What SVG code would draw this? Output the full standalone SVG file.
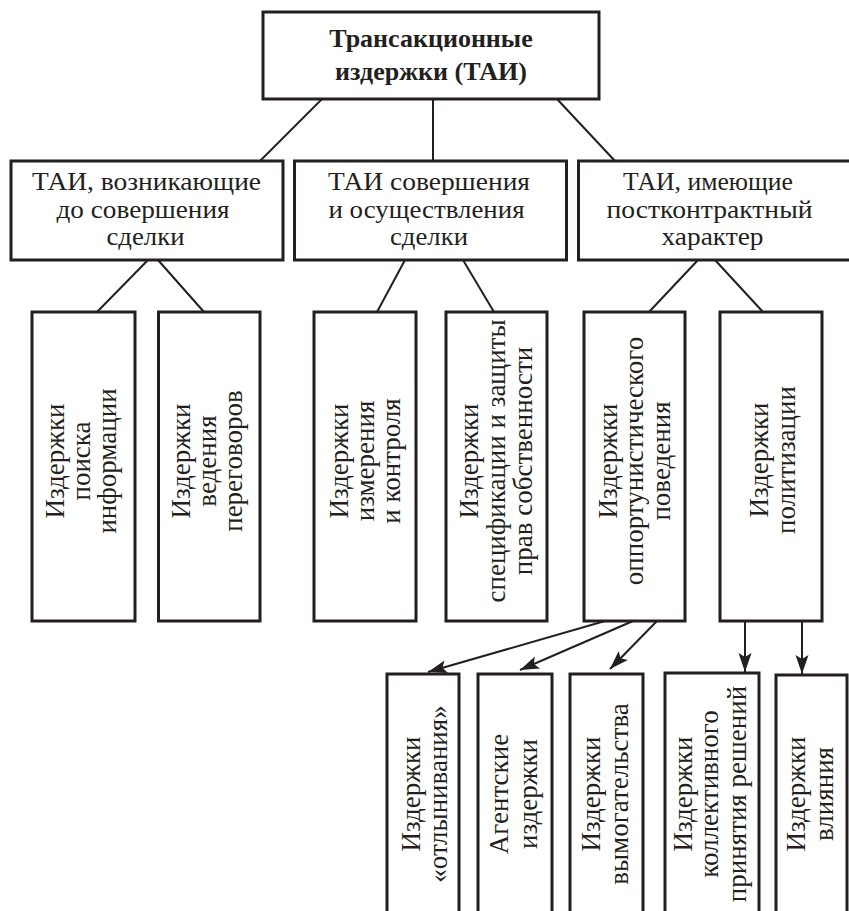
<svg xmlns="http://www.w3.org/2000/svg" width="849" height="911" viewBox="0 0 849 911">
<style>
.box{fill:#fff;stroke:#231f20;stroke-width:3}
.ln{stroke:#231f20;stroke-width:2;fill:none}
.ar{stroke:#231f20;stroke-width:2;fill:none;marker-end:url(#ah)}
text{font-family:"Liberation Serif","Times New Roman",serif;font-size:27px;fill:#231f20;text-anchor:middle}
.m{font-size:25px}
.b{font-weight:bold;font-size:26px}
</style>
<defs>
<marker id="ah" markerUnits="userSpaceOnUse" markerWidth="24" markerHeight="16" viewBox="-20 -8 22 16" refX="0" refY="0" orient="auto">
<path d="M0,0 L-19,-6.5 L-15,0 L-19,6.5 Z" fill="#231f20"/>
</marker>
</defs>
<g id="connectors">
<line class="ln" x1="322" y1="99" x2="260" y2="161"/>
<line class="ln" x1="433" y1="99" x2="433" y2="161"/>
<line class="ln" x1="557" y1="99" x2="615" y2="161"/>
<line class="ln" x1="148" y1="260" x2="97" y2="312"/>
<line class="ln" x1="158" y1="260" x2="204" y2="312"/>
<line class="ln" x1="405" y1="260" x2="377" y2="312"/>
<line class="ln" x1="463" y1="260" x2="494" y2="312"/>
<line class="ln" x1="698" y1="260" x2="649" y2="312"/>
<line class="ln" x1="715" y1="260" x2="763" y2="312"/>
<line class="ar" x1="605" y1="621" x2="428" y2="672"/>
<line class="ar" x1="633" y1="621" x2="520" y2="670"/>
<line class="ar" x1="657" y1="621" x2="610" y2="669"/>
<line class="ar" x1="745" y1="621" x2="745" y2="672"/>
<line class="ar" x1="802" y1="621" x2="802" y2="674"/>
</g>
<g id="top">
<rect class="box" x="263" y="12" width="336" height="87"/>
<text class="b" x="431" y="47">Трансакционные</text>
<text class="b" x="431" y="80">издержки (ТАИ)</text>
</g>
<g id="pre">
<rect class="box" x="11" y="161" width="272" height="99"/>
<text class="m" x="146.5" y="190" textLength="229" lengthAdjust="spacingAndGlyphs">ТАИ, возникающие</text>
<text class="m" x="143" y="217.5" textLength="173" lengthAdjust="spacingAndGlyphs">до совершения</text>
<text class="m" x="145.5" y="245" textLength="78" lengthAdjust="spacingAndGlyphs">сделки</text>
</g>
<g id="exec">
<rect class="box" x="294.5" y="161" width="272" height="99"/>
<text class="m" x="429" y="190" textLength="202" lengthAdjust="spacingAndGlyphs">ТАИ совершения</text>
<text class="m" x="426.5" y="217.5" textLength="196" lengthAdjust="spacingAndGlyphs">и осуществления</text>
<text class="m" x="429" y="245" textLength="78" lengthAdjust="spacingAndGlyphs">сделки</text>
</g>
<g id="post">
<rect class="box" x="578.5" y="161" width="273" height="99"/>
<text class="m" x="708" y="190" textLength="170" lengthAdjust="spacingAndGlyphs">ТАИ, имеющие</text>
<text class="m" x="709.5" y="217.5" textLength="206" lengthAdjust="spacingAndGlyphs">постконтрактный</text>
<text class="m" x="712.5" y="245" textLength="102" lengthAdjust="spacingAndGlyphs">характер</text>
</g>
<g id="search">
<rect class="box" x="32" y="312" width="103" height="309"/>
<text transform="translate(64,461) rotate(-90)">Издержки</text>
<text transform="translate(90,461) rotate(-90)">поиска</text>
<text transform="translate(116,461) rotate(-90)">информации</text>
</g>
<g id="negotiation">
<rect class="box" x="158.5" y="312" width="101.5" height="309"/>
<text transform="translate(190,461) rotate(-90)">Издержки</text>
<text transform="translate(216,461) rotate(-90)">ведения</text>
<text transform="translate(242,461) rotate(-90)">переговоров</text>
</g>
<g id="measure">
<rect class="box" x="314" y="312" width="102" height="309"/>
<text transform="translate(348,461) rotate(-90)">Издержки</text>
<text transform="translate(374,461) rotate(-90)">измерения</text>
<text transform="translate(400,461) rotate(-90)">и контроля</text>
</g>
<g id="spec">
<rect class="box" x="446" y="312" width="101" height="309"/>
<text transform="translate(478,461) rotate(-90)">Издержки</text>
<text transform="translate(505,461) rotate(-90)">спецификации и защиты</text>
<text transform="translate(532,461) rotate(-90)">прав собственности</text>
</g>
<g id="opport">
<rect class="box" x="584" y="312" width="101" height="309"/>
<text transform="translate(617,461) rotate(-90)">Издержки</text>
<text transform="translate(643,461) rotate(-90)">оппортунистического</text>
<text transform="translate(670,461) rotate(-90)">поведения</text>
</g>
<g id="polit">
<rect class="box" x="720" y="312" width="102" height="309"/>
<text transform="translate(768,460) rotate(-90)">Издержки</text>
<text transform="translate(795,460) rotate(-90)">политизации</text>
</g>
<g id="shirk">
<rect class="box" x="387" y="674" width="72" height="245"/>
<text transform="translate(420,794) rotate(-90)">Издержки</text>
<text transform="translate(447,794) rotate(-90)">«отлынивания»</text>
</g>
<g id="agent">
<rect class="box" x="478" y="674" width="74" height="245"/>
<text transform="translate(508,794) rotate(-90)">Агентские</text>
<text transform="translate(537,794) rotate(-90)">издержки</text>
</g>
<g id="extort">
<rect class="box" x="570" y="674" width="73" height="245"/>
<text transform="translate(600,794) rotate(-90)">Издержки</text>
<text transform="translate(628,794) rotate(-90)">вымогательства</text>
</g>
<g id="collective">
<rect class="box" x="665" y="673" width="94" height="246"/>
<text transform="translate(692,794) rotate(-90)">Издержки</text>
<text transform="translate(718,794) rotate(-90)">коллективного</text>
<text transform="translate(746,794) rotate(-90)">принятия решений</text>
</g>
<g id="influence">
<rect class="box" x="776" y="675" width="71" height="244"/>
<text transform="translate(805,794) rotate(-90)">Издержки</text>
<text transform="translate(833,794) rotate(-90)">влияния</text>
</g>
</svg>
